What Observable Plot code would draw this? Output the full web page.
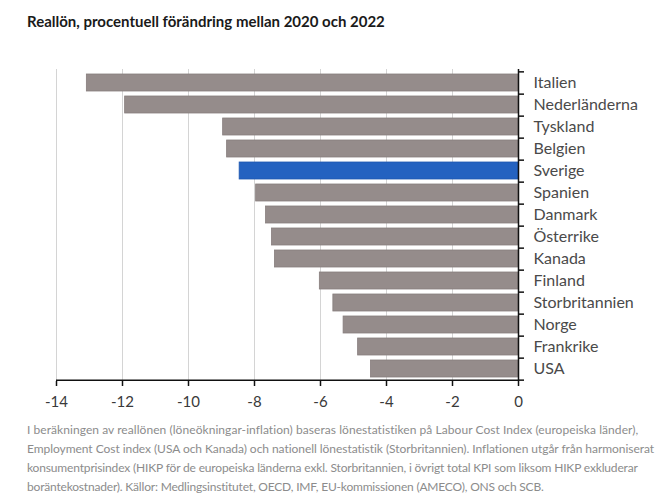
<!DOCTYPE html>
<html>
<head>
<meta charset="utf-8">
<script src="https://cdn.jsdelivr.net/npm/d3@7"></script>
<script src="https://cdn.jsdelivr.net/npm/@observablehq/plot@0.6"></script>
<style>
  html, body { margin: 0; padding: 0; background: #fff; }
  body { position: relative; width: 663px; height: 500px; overflow: hidden; font-family: Lato, sans-serif; }
  #title { position: absolute; left: 27px; top: 12px; font-size: 15px; font-weight: bold; color: #1a1a1a; white-space: nowrap; }
  #chart { position: absolute; left: 0; top: 45px; }
  #caption { position: absolute; left: 27px; top: 420px; font-size: 12px; line-height: 19px; color: #8c8c8c; white-space: nowrap; }
  #caption span { display: block; }
</style>
</head>
<body>
<div id="title">Reallön, procentuell förändring mellan 2020 och 2022</div>
<div id="chart"></div>
<div id="caption"><span style="letter-spacing:0.06px">I beräkningen av reallönen (löneökningar-inflation) baseras lönestatistiken på Labour Cost Index (europeiska länder),</span><span style="letter-spacing:-0.05px">Employment Cost index (USA och Kanada) och nationell lönestatistik (Storbritannien). Inflationen utgår från harmoniserat</span><span style="letter-spacing:-0.16px">konsumentprisindex (HIKP för de europeiska länderna exkl. Storbritannien, i övrigt total KPI som liksom HIKP exkluderar</span><span style="letter-spacing:-0.19px">boräntekostnader). Källor: Medlingsinstitutet, OECD, IMF, EU-kommissionen (AMECO), ONS och SCB.</span></div>
<script>
const countries = ["Italien", "Nederländerna", "Tyskland", "Belgien", "Sverige", "Spanien", "Danmark", "Österrike", "Kanada", "Finland", "Storbritannien", "Norge", "Frankrike", "USA"];
const values = [-13.08, -11.92, -8.95, -8.83, -8.45, -7.95, -7.65, -7.47, -7.38, -6.02, -5.61, -5.30, -4.86, -4.47];
const highlight = "Sverige";
const xTicks = [-14, -12, -10, -8, -6, -4, -2, 0];

const data = countries.map((c, i) => ({country: c, value: values[i]}));

const width = 663, height = 366;
const marginTop = 24, marginBottom = 30, marginLeft = 56, marginRight = 145;
const step = (height - marginTop - marginBottom) / countries.length;

const chart = Plot.plot({
  width, height, marginTop, marginBottom, marginLeft, marginRight,
  style: {fontFamily: "Lato, sans-serif", background: "#fff"},
  x: {domain: [-14, 0]},
  y: {domain: countries, paddingInner: 0.24, paddingOuter: 0.12},
  marks: [
    Plot.gridX(xTicks.slice(0, -1), {stroke: "#d4d4d4", strokeOpacity: 1, strokeWidth: 1}),
    Plot.barX(data, {
      x: "value", y: "country",
      fill: d => d.country === highlight ? "#2462c0" : "#958c8b",
      stroke: d => d.country === highlight ? "#1f58b0" : "#877e7d",
      strokeWidth: 0.8
    }),
    Plot.ruleX([0], {stroke: "#111", strokeWidth: 1.5}),
    Plot.ruleY([countries[countries.length - 1]], {dy: step / 2, stroke: "#111", strokeWidth: 1.5}),
    Plot.axisX(xTicks, {tickSize: 5, tickPadding: 10, fontSize: 15, fill: "#3a3a3a", stroke: "#111", strokeWidth: 1.5, label: null, tickFormat: d => String(d)}),
    Plot.axisY(countries, {anchor: "right", tickSize: 5, tickFormat: null, dy: step / 2, stroke: "#111", strokeWidth: 1.5, label: null}),
    Plot.axisY([countries[0]], {anchor: "right", tickSize: 5, tickFormat: null, dy: -step / 2, stroke: "#111", strokeWidth: 1.5, label: null}),
    Plot.axisY(countries, {anchor: "right", tickSize: 0, tickPadding: 15, fontSize: 16, fontWeight: 400, fill: "#4a4a4a", label: null})
  ]
});
document.getElementById("chart").appendChild(chart);
</script>
</body>
</html>
